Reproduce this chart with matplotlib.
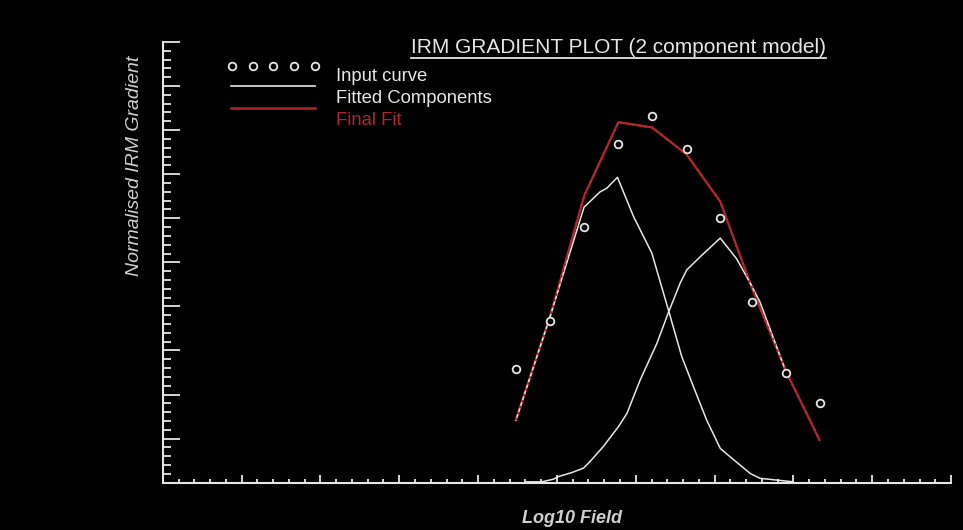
import numpy as np
import matplotlib
matplotlib.use("Agg")
import matplotlib.pyplot as plt
from matplotlib.ticker import MultipleLocator, NullFormatter
from matplotlib.lines import Line2D

plt.rcParams['font.family'] = ['Liberation Sans', 'DejaVu Sans']

# measured IRM gradient (log10 field, normalised gradient)
field = [1.120, 1.228, 1.337, 1.445, 1.552, 1.661, 1.768, 1.869, 1.977, 2.083]
grad = [0.257, 0.367, 0.581, 0.768, 0.832, 0.758, 0.600, 0.409, 0.248, 0.180]

# sum of the two components at the measured fields
fit = [0.142, 0.376, 0.652, 0.818, 0.806, 0.745, 0.638, 0.441, 0.252, 0.097]

# component 1 (low coercivity)
c1_x = [1.120, 1.228, 1.336, 1.387, 1.408, 1.442, 1.493, 1.551, 1.604, 1.646,
        1.683, 1.725, 1.768, 1.799, 1.863, 1.894, 1.947, 2.000]
c1_y = [0.142, 0.376, 0.625, 0.660, 0.668, 0.693, 0.604, 0.521, 0.391, 0.286,
        0.218, 0.142, 0.078, 0.059, 0.021, 0.010, 0.006, 0.002]

# component 2 (high coercivity)
c2_x = [1.154, 1.202, 1.239, 1.255, 1.297, 1.334, 1.355, 1.397, 1.445, 1.472,
        1.514, 1.567, 1.604, 1.641, 1.662, 1.705, 1.768, 1.820, 1.863, 1.894, 1.977]
c2_y = [0.002, 0.002, 0.008, 0.014, 0.023, 0.033, 0.048, 0.082, 0.127, 0.157,
        0.233, 0.316, 0.387, 0.453, 0.483, 0.513, 0.555, 0.508, 0.453, 0.410, 0.251]

FG = '#e6e6e6'
RED = '#b0272c'

fig = plt.figure(figsize=(9.63, 5.30), dpi=100, facecolor='black')
ax = fig.add_axes([0.169, 0.0892, 0.8186, 0.8316], facecolor='black')

ax.set_xlim(0, 2.5)
ax.set_ylim(0, 1.0)

# red fit underneath, components, then dashed red on top so overlaps look speckled
ax.plot(field, fit, color=RED, lw=1.6, zorder=2)
ax.plot(c1_x, c1_y, color=FG, lw=1.1, zorder=3)
ax.plot(c2_x, c2_y, color=FG, lw=1.1, zorder=3)
ax.plot(field, fit, color=RED, lw=1.6, dashes=(1.2, 1.6), zorder=4)
ax.plot(field, grad, ls='none', marker='o', ms=5.5, mfc='black', mec=FG, mew=1.3, zorder=5)

for side in ['top', 'right']:
    ax.spines[side].set_visible(False)
for side in ['left', 'bottom']:
    ax.spines[side].set_color(FG)
    ax.spines[side].set_linewidth(1.5)

ax.xaxis.set_major_locator(MultipleLocator(0.25))
ax.xaxis.set_minor_locator(MultipleLocator(0.05))
ax.yaxis.set_major_locator(MultipleLocator(0.1))
ax.yaxis.set_minor_locator(MultipleLocator(0.02))
ax.xaxis.set_major_formatter(NullFormatter())
ax.yaxis.set_major_formatter(NullFormatter())
ax.tick_params(axis='y', which='major', direction='in', length=12, width=1.3, color=FG)
ax.tick_params(axis='y', which='minor', direction='in', length=6, width=1.3, color=FG)
ax.tick_params(axis='x', which='major', direction='in', length=6, width=1.3, color=FG)
ax.tick_params(axis='x', which='minor', direction='in', length=3.2, width=1.3, color=FG)

ax.set_xlabel('Log10 Field', color='#d0d0d0', fontsize=13, style='italic', fontweight='bold')
ax.xaxis.set_label_coords(0.519, -0.062)
ax.set_ylabel('Normalised IRM Gradient', color='#d0d0d0', fontsize=14, style='italic')
ax.yaxis.set_label_coords(-0.025, 0.72)

# title with underline
title = ax.text(0.578, 0.9756, 'IRM GRADIENT PLOT (2 component model)', transform=ax.transAxes,
                ha='center', va='baseline', color=FG, fontsize=15)

# hand-drawn key
hx = np.linspace(0.0875, 0.193, 5)
ax.plot(hx, [0.9455] * 5, transform=ax.transAxes, ls='none', marker='o', ms=5.5,
        mfc='black', mec=FG, mew=1.3, clip_on=False)
ax.add_line(Line2D([0.0866, 0.193], [0.9008, 0.9008], transform=ax.transAxes, color=FG, lw=1.2))
ax.add_line(Line2D([0.0866, 0.193], [0.851, 0.851], transform=ax.transAxes, color=RED, lw=1.8))
ax.text(0.2195, 0.9121, 'Input curve', transform=ax.transAxes, color=FG, fontsize=13.3, va='baseline')
ax.text(0.2195, 0.8609, 'Fitted Components', transform=ax.transAxes, color=FG, fontsize=13.3, va='baseline')
ax.text(0.2195, 0.8116, 'Final Fit', transform=ax.transAxes, color=RED, fontsize=13.3, va='baseline')

fig.canvas.draw()
bb = title.get_window_extent().transformed(fig.transFigure.inverted())
fig.add_artist(Line2D([bb.x0, bb.x1], [bb.y0 - 0.003, bb.y0 - 0.003], color=FG, lw=1.3))

fig.savefig('out.png', dpi=100, facecolor='black')
